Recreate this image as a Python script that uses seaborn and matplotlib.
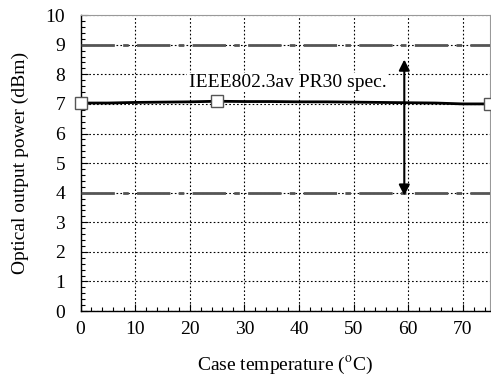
import matplotlib
matplotlib.use("Agg")
import matplotlib.pyplot as plt
import seaborn as sns
import pandas as pd
from matplotlib.ticker import MultipleLocator

temps = [0, 5, 10, 15, 20, 25, 30, 35, 40, 45, 50, 55, 60, 65, 70, 75]
power = [7.03, 7.03, 7.05, 7.06, 7.07, 7.09, 7.08, 7.08, 7.07, 7.07, 7.06, 7.05, 7.04, 7.03, 7.00, 7.00]
marker_idx = [0, 5, 15]
spec_upper = 9.0
spec_lower = 4.0
arrow_x = 59.3
arrow_top = 8.5
arrow_bottom = 3.9
spec_label = "IEEE802.3av PR30 spec."

sns.set_theme(style="white")
plt.rcParams['font.family'] = ['Liberation Serif', 'DejaVu Serif']
plt.rcParams['mathtext.fontset'] = 'stix'

fig = plt.figure(figsize=(4.91, 3.78), dpi=100)
ax = fig.add_axes([0.164, 0.177, 0.834, 0.783])

df = pd.DataFrame({"t": temps, "p": power})
sns.lineplot(data=df, x="t", y="p", ax=ax, color="black", linewidth=2.0,
             marker="s", markersize=9, markerfacecolor="white",
             markeredgecolor="#555555", markeredgewidth=1.0,
             markevery=marker_idx, zorder=5, clip_on=False)

ax.axhline(spec_upper, color="#555555", linewidth=2.0, dashes=(12, 3, 2, 3), zorder=3)
ax.axhline(spec_lower, color="#555555", linewidth=2.0, dashes=(12, 3, 2, 3), zorder=3)

ax.annotate("", xy=(arrow_x, arrow_top), xytext=(arrow_x, arrow_bottom),
            arrowprops=dict(arrowstyle="<|-|>", color="black", lw=1.5,
                            mutation_scale=16, shrinkA=0, shrinkB=0), zorder=6)
ax.text(56, 7.72, spec_label, ha="right", va="center", fontsize=14,
        color="black", zorder=6,
        bbox=dict(facecolor="white", edgecolor="none", pad=1))

ax.set_xlim(0, 75)
ax.set_ylim(0, 10)
ax.xaxis.set_major_locator(MultipleLocator(10))
ax.xaxis.set_minor_locator(MultipleLocator(2))
ax.yaxis.set_major_locator(MultipleLocator(1))
ax.yaxis.set_minor_locator(MultipleLocator(0.2))
ax.grid(True, which="major", color="black", linestyle=(0, (1.5, 2)), linewidth=0.8)
ax.tick_params(which="both", direction="in", left=True, bottom=True, color="black")
ax.tick_params(which="major", length=5, width=0.8, labelsize=14)
ax.tick_params(axis="x", which="major", pad=7)
ax.tick_params(axis="y", which="major", pad=11)
ax.tick_params(which="minor", length=3, width=0.8)
for s in ["left", "bottom"]:
    ax.spines[s].set_color("black")
    ax.spines[s].set_linewidth(1.0)
for s in ["top", "right"]:
    ax.spines[s].set_color("#999999")
    ax.spines[s].set_linewidth(0.8)

ax.set_xlabel("Case temperature ($^{\\mathrm{o}}$C)", fontsize=14, labelpad=12, color="black")
ax.set_ylabel("Optical output power (dBm)", fontsize=14, labelpad=12, color="black")
for lbl in ax.get_xticklabels() + ax.get_yticklabels():
    lbl.set_color("black")

fig.savefig("out.png", dpi=100, facecolor="white")
